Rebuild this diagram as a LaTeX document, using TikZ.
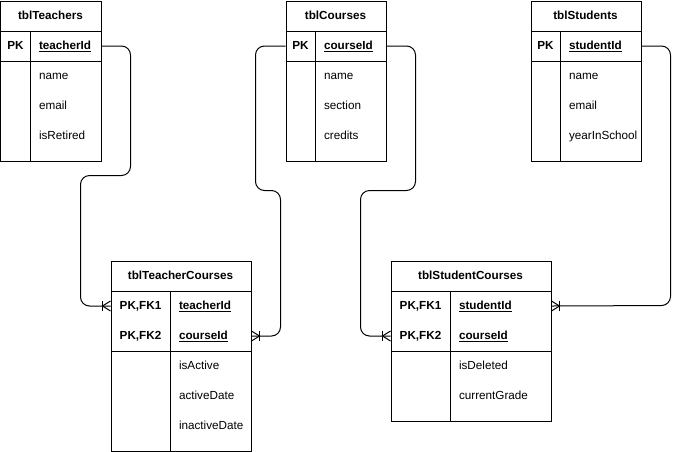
\documentclass[tikz,border=0pt]{standalone}
\usepackage{fontspec}
\setmainfont{Liberation Sans}
\usetikzlibrary{calc}
\newcommand\erfont{\fontsize{11.7}{14}\selectfont}
\begin{document}
\begin{tikzpicture}[x=1pt,y=-1pt,line width=1pt,
  part/.style={draw, rectangle, anchor=north west, inner sep=0pt},
  row/.style={rectangle, anchor=north west, inner sep=0pt, minimum height=30pt},
  title/.style={anchor=base, inner sep=0pt, font=\erfont\bfseries},
  keylbl/.style={anchor=base, inner sep=0pt, font=\erfont\bfseries},
  keyfld/.style={anchor=base west, inner sep=0pt, font=\erfont\bfseries},
  fld/.style={anchor=base west, inner sep=0pt, font=\erfont},
  link/.style={draw, rounded corners=9pt},
  oneandmany/.pic={\draw (0,-5) -- (-8,0) -- (0,5); \draw (-8,-5) -- (-8,5);}
]
\useasboundingbox (-0.5,-0.5) rectangle (678.5,450.5);

% ---------- tblTeachers ----------
\node[part, minimum width=100pt, minimum height=30pt] (teachersHead) at (0,0) {};
\node[part, minimum width=100pt, minimum height=30pt] (teachersKeys) at (0,30) {};
\node[part, minimum width=100pt, minimum height=100pt] (teachersAttrs) at (0,60) {};
\draw (30,30) -- (30,160);
\node[title] (teachersTitle) at (50,19.2) {tblTeachers};
\node[keylbl] (teachersPK) at (15,49.2) {PK};
\node[keyfld] (teachersId) at (38,49.2) {\underline{teacherId}};
\node[fld] (teachersName) at (38,79.2) {name};
\node[fld] (teachersEmail) at (38,109.2) {email};
\node[fld] (teachersRetired) at (38,139.2) {isRetired};

% ---------- tblCourses ----------
\node[part, minimum width=100pt, minimum height=30pt] (coursesHead) at (285,0) {};
\node[part, minimum width=100pt, minimum height=30pt] (coursesKeys) at (285,30) {};
\node[part, minimum width=100pt, minimum height=100pt] (coursesAttrs) at (285,60) {};
\draw (315,30) -- (315,160);
\node[title] (coursesTitle) at (335,19.2) {tblCourses};
\node[keylbl] (coursesPK) at (300,49.2) {PK};
\node[keyfld] (coursesId) at (323,49.2) {\underline{courseId}};
\node[fld] (coursesName) at (323,79.2) {name};
\node[fld] (coursesSection) at (323,109.2) {section};
\node[fld] (coursesCredits) at (323,139.2) {credits};

% ---------- tblStudents ----------
\node[part, minimum width=110pt, minimum height=30pt] (studentsHead) at (530,0) {};
\node[part, minimum width=110pt, minimum height=30pt] (studentsKeys) at (530,30) {};
\node[part, minimum width=110pt, minimum height=100pt] (studentsAttrs) at (530,60) {};
\draw (560,30) -- (560,160);
\node[title] (studentsTitle) at (585,19.2) {tblStudents};
\node[keylbl] (studentsPK) at (545,49.2) {PK};
\node[keyfld] (studentsId) at (568,49.2) {\underline{studentId}};
\node[fld] (studentsName) at (568,79.2) {name};
\node[fld] (studentsEmail) at (568,109.2) {email};
\node[fld] (studentsYear) at (568,139.2) {yearInSchool};

% ---------- tblTeacherCourses ----------
\node[part, minimum width=140pt, minimum height=30pt] (tcHead) at (110,260) {};
\node[part, minimum width=140pt, minimum height=60pt] (tcKeys) at (110,290) {};
\node[part, minimum width=140pt, minimum height=100pt] (tcAttrs) at (110,350) {};
\node[row, minimum width=140pt] (tcK1) at (110,290) {};
\node[row, minimum width=140pt] (tcK2) at (110,320) {};
\draw (170,290) -- (170,450);
\node[title] (tcTitle) at (180,279.2) {tblTeacherCourses};
\node[keylbl] (tcPK1) at (140,309.2) {PK,FK1};
\node[keylbl] (tcPK2) at (140,339.2) {PK,FK2};
\node[keyfld] (tcTeacherId) at (178,309.2) {\underline{teacherId}};
\node[keyfld] (tcCourseId) at (178,339.2) {\underline{courseId}};
\node[fld] (tcActive) at (178,369.2) {isActive};
\node[fld] (tcActiveDate) at (178,399.2) {activeDate};
\node[fld] (tcInactiveDate) at (178,429.2) {inactiveDate};

% ---------- tblStudentCourses ----------
\node[part, minimum width=160pt, minimum height=30pt] (scHead) at (390,260) {};
\node[part, minimum width=160pt, minimum height=60pt] (scKeys) at (390,290) {};
\node[part, minimum width=160pt, minimum height=70pt] (scAttrs) at (390,350) {};
\node[row, minimum width=160pt] (scK1) at (390,290) {};
\node[row, minimum width=160pt] (scK2) at (390,320) {};
\draw (450,290) -- (450,420);
\node[title] (scTitle) at (470,279.2) {tblStudentCourses};
\node[keylbl] (scPK1) at (420,309.2) {PK,FK1};
\node[keylbl] (scPK2) at (420,339.2) {PK,FK2};
\node[keyfld] (scStudentId) at (458,309.2) {\underline{studentId}};
\node[keyfld] (scCourseId) at (458,339.2) {\underline{courseId}};
\node[fld] (scDeleted) at (458,369.2) {isDeleted};
\node[fld] (scGrade) at (458,399.2) {currentGrade};

% ---------- relationships ----------
\coordinate (tA) at (130,175);
\coordinate (tB) at (80,175);
\draw[link] (teachersKeys.east) -| (tA) -- (tB) |- (tcK1.west);
\pic at (tcK1.west) {oneandmany};

\coordinate (cA) at (255,190);
\coordinate (cB) at (280,190);
\draw[link] (coursesKeys.west) -| (cA) -- (cB) |- (tcK2.east);
\pic[rotate=180] at (tcK2.east) {oneandmany};

\coordinate (cC) at (415,190);
\coordinate (cD) at (360,190);
\draw[link] (coursesKeys.east) -| (cC) -- (cD) |- (scK2.west);
\pic at (scK2.west) {oneandmany};

\coordinate (sA) at (670,305);
\draw[link] (studentsKeys.east) -| (sA) -- (scK1.east);
\pic[rotate=180] at (scK1.east) {oneandmany};
\end{tikzpicture}
\end{document}
